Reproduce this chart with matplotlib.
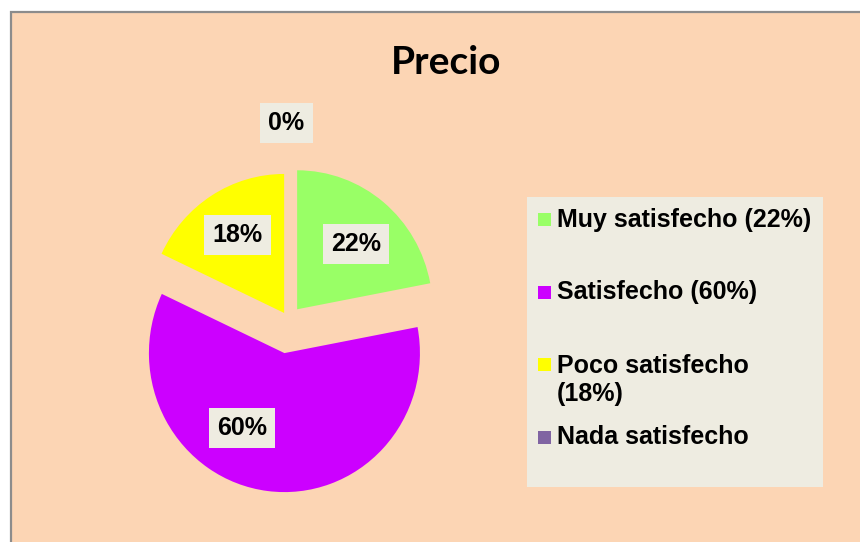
import numpy as np
import matplotlib
matplotlib.use("Agg")
import matplotlib.pyplot as plt
from matplotlib.patches import Rectangle

# ---- data ----
categories = ["Muy satisfecho", "Satisfecho", "Poco satisfecho", "Nada satisfecho"]
values = [22, 60, 18, 0]
pct_labels = ["22%", "60%", "18%", "0%"]
legend_labels = ["Muy satisfecho (22%)", "Satisfecho (60%)", "Poco satisfecho\n(18%)", "Nada satisfecho"]
colors = ["#99FF66", "#CC00FF", "#FFFF00", "#8064A2"]
title = "Precio"

# ---- style ----
explode = [0.10, 0.24, 0.06, 0.0]
label_dist = [0.74, 0.85, 0.72, 1.42]
label_ang_shift = [-2.6, -16.5, -0.9, 0.6]
W, H = 860, 542
BG = "#FCD5B4"
BOX = "#EEECE1"
FONT = ["Liberation Sans", "DejaVu Sans"]

fig = plt.figure(figsize=(W / 100, H / 100), dpi=100, facecolor="white")

def fx(px):
    return px / W

def fy(py):
    return (H - py) / H

# chart area background with grey border (top/left visible)
fig.patches.append(Rectangle((fx(11), -0.02), 1.05, fy(12) + 0.02, transform=fig.transFigure,
                             facecolor=BG, edgecolor="#8C8C8C", linewidth=1.6, zorder=-5))

# pie axes: centre at (288.5, 320) px, radii 135.5 px (x) / 139 px (y)
RX, RY = 135.5, 139.0
cx, cy = 288.5, 320.0
ax = fig.add_axes([fx(cx - 2 * RX), fy(cy + 2 * RY), 4 * RX / W, 4 * RY / H])
ax.set_zorder(1)

wedges, _ = ax.pie(values, colors=colors, startangle=90, counterclock=False,
                   explode=explode, radius=1.0, center=(0, 0),
                   wedgeprops=dict(linewidth=0))
ax.set_xlim(-2, 2)
ax.set_ylim(-2, 2)
ax.set_aspect("auto")
ax.axis("off")
ax.patch.set_visible(False)

total = float(sum(values))
start = 90.0
for i, v in enumerate(values):
    span = 360.0 * v / total
    mid = start - span / 2.0 + label_ang_shift[i]
    start -= span
    d = label_dist[i]
    x = d * np.cos(np.radians(mid))
    y = d * np.sin(np.radians(mid))
    ax.text(x, y, pct_labels[i], ha="center", va="center", fontsize=18,
            fontweight="bold", family=FONT, color="black",
            bbox=dict(boxstyle="square,pad=0.32", facecolor=BOX, edgecolor="none"))

# title
fig.text(fx(446.5), fy(74), title, ha="center", va="baseline", fontsize=28,
         fontweight="bold", family=["Lato", "DejaVu Sans"], color="black")

# legend (manual box)
lx0, ly0, lx1, ly1 = 527, 197, 823, 487
fig.patches.append(Rectangle((fx(lx0), fy(ly1)), (lx1 - lx0) / W, (ly1 - ly0) / H,
                             transform=fig.transFigure, facecolor=BOX, edgecolor="none", zorder=1))
entry_y = [220, 292, 380, 437]
square_y = [220, 292, 364, 437]
sq = 13
for lab, col, ty, sy in zip(legend_labels, colors, entry_y, square_y):
    fig.patches.append(Rectangle((fx(538), fy(sy + sq / 2)), sq / W, sq / H,
                                 transform=fig.transFigure, facecolor=col, edgecolor="none", zorder=2))
    fig.text(fx(557), fy(ty), lab, ha="left", va="center", fontsize=18, fontweight="bold",
             family=FONT, color="black", zorder=3)

fig.savefig("out.png", dpi=100, facecolor="white")
